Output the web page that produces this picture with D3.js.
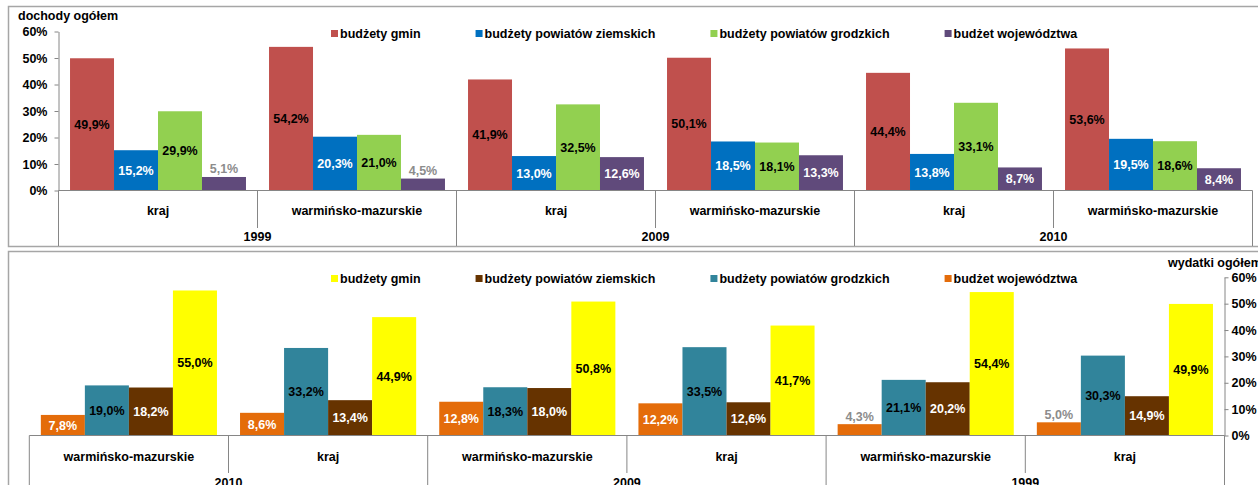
<!DOCTYPE html>
<html lang="pl">
<head>
<meta charset="utf-8">
<script src="https://cdn.jsdelivr.net/npm/d3@7"></script>
<style>
  html, body { margin: 0; padding: 0; background: #fff; }
  svg { display: block; font-family: "Liberation Sans", Arial, sans-serif; font-weight: bold; }
</style>
</head>
<body>
<svg id="chart" width="1258" height="485"></svg>
<script>
// ---- data ----
const seriesNames = ["budżety gmin", "budżety powiatów ziemskich", "budżety powiatów grodzkich", "budżet województwa"];
const yTicks = [0, 10, 20, 30, 40, 50, 60];

// dochody ogółem: groups 1999 kraj, 1999 w-m, 2009 kraj, 2009 w-m, 2010 kraj, 2010 w-m
const incomeYears = ["1999", "2009", "2010"];
const incomeRegions = ["kraj", "warmińsko-mazurskie"];
const incomeGmin = [49.9, 54.2, 41.9, 50.1, 44.4, 53.6];
const incomeZiemskie = [15.2, 20.3, 13.0, 18.5, 13.8, 19.5];
const incomeGrodzkie = [29.9, 21.0, 32.5, 18.1, 33.1, 18.6];
const incomeWojewodztwo = [5.1, 4.5, 12.6, 13.3, 8.7, 8.4];

// wydatki ogółem: groups 2010 w-m, 2010 kraj, 2009 w-m, 2009 kraj, 1999 w-m, 1999 kraj
const expenseYears = ["2010", "2009", "1999"];
const expenseRegions = ["warmińsko-mazurskie", "kraj"];
const expenseGmin = [55.0, 44.9, 50.8, 41.7, 54.4, 49.9];
const expenseZiemskie = [18.2, 13.4, 18.0, 12.6, 20.2, 14.9];
const expenseGrodzkie = [19.0, 33.2, 18.3, 33.5, 21.1, 30.3];
const expenseWojewodztwo = [7.8, 8.6, 12.8, 12.2, 4.3, 5.0];

// ---- styling ----
const FONT = 12.5;
const AXIS = "#868686";
const BORDER = "#a6a6a6";
const fmt = v => v.toFixed(1).replace(".", ",") + "%";

const svg = d3.select("#chart");

function drawPanel(cfg) {
  const g = svg.append("g");

  // panel frame
  g.append("rect")
    .attr("x", 8.5).attr("y", cfg.frameTop + 0.5)
    .attr("width", 1300).attr("height", cfg.frameBottom - cfg.frameTop)
    .attr("fill", "none").attr("stroke", BORDER).attr("stroke-width", 1.5);

  const groups = [];
  cfg.years.forEach(yr => cfg.regions.forEach(rg => groups.push({ year: yr, region: rg })));

  const x0 = d3.scaleBand().domain(d3.range(groups.length)).range(cfg.xRange);
  const x1 = d3.scaleBand().domain(d3.range(cfg.series.length))
    .range([0, x0.bandwidth()]).paddingOuter(0.262);
  const y = d3.scaleLinear().domain([0, 60]).range(cfg.yRange);

  // bars
  cfg.series.forEach((s, si) => {
    const sg = g.append("g");
    sg.selectAll("rect").data(s.values).join("rect")
      .attr("x", (d, i) => x0(i) + x1(si))
      .attr("y", d => y(d))
      .attr("width", x1.bandwidth())
      .attr("height", d => y(0) - y(d))
      .attr("fill", s.color);

    sg.selectAll("text").data(s.values).join("text")
      .attr("x", (d, i) => x0(i) + x1(si) + x1.bandwidth() / 2)
      .attr("y", d => d >= 6 ? (y(d) + y(0)) / 2 : y(d) - 8)
      .attr("dy", "0.35em")
      .attr("text-anchor", "middle")
      .attr("font-size", FONT)
      .attr("fill", d => d >= 6 ? s.labelColor : "#8c8c8c")
      .text(d => fmt(d));
  });

  // value axis
  const axis = (cfg.axisSide === "left" ? d3.axisLeft(y) : d3.axisRight(y))
    .tickValues(yTicks).tickFormat(d => d + "%")
    .tickSize(4).tickSizeOuter(0).tickPadding(cfg.axisSide === "left" ? 7 : 3);
  const ax = g.append("g")
    .attr("transform", `translate(${cfg.axisSide === "left" ? cfg.xRange[0] : cfg.xRange[1]},0)`)
    .call(axis);
  ax.selectAll("path, line").attr("stroke", AXIS);
  ax.selectAll("text").attr("font-size", FONT).attr("fill", "#000");
  ax.attr("font-family", null).attr("font-size", null);

  // category axis: baseline
  const base = y(0);
  g.append("line")
    .attr("x1", cfg.xRange[0]).attr("x2", cfg.xRange[1])
    .attr("y1", base).attr("y2", base)
    .attr("stroke", AXIS);

  // separators between regions within a year
  for (let i = 1; i < groups.length; i += 2) {
    g.append("line")
      .attr("x1", x0(i)).attr("x2", x0(i))
      .attr("y1", base).attr("y2", cfg.regionSepBottom)
      .attr("stroke", AXIS);
  }
  // separators between years, down to the panel's lower edge
  for (let i = 0; i <= groups.length; i += 2) {
    const xx = i < groups.length ? x0(i) : cfg.xRange[1];
    g.append("line")
      .attr("x1", xx).attr("x2", xx)
      .attr("y1", base).attr("y2", cfg.frameBottom)
      .attr("stroke", AXIS);
  }

  // region labels
  g.append("g").selectAll("text").data(groups).join("text")
    .attr("x", (d, i) => x0(i) + x0.bandwidth() / 2)
    .attr("y", cfg.regionLabelY).attr("dy", "0.35em")
    .attr("text-anchor", "middle").attr("font-size", FONT)
    .text(d => d.region);

  // year labels
  g.append("g").selectAll("text").data(cfg.years).join("text")
    .attr("x", (d, i) => x0(2 * i) + x0.bandwidth())
    .attr("y", cfg.yearLabelY).attr("dy", "0.35em")
    .attr("text-anchor", "middle").attr("font-size", FONT)
    .text(d => d);

  // axis title
  g.append("text")
    .attr("x", cfg.titleX).attr("y", cfg.titleY).attr("dy", "0.35em")
    .attr("font-size", FONT)
    .text(cfg.title);

  // legend
  const legend = g.append("g");
  let lx = 331;
  cfg.legend.forEach(s => {
    legend.append("rect")
      .attr("x", lx).attr("y", cfg.legendY - 3.5)
      .attr("width", 7).attr("height", 7)
      .attr("fill", s.color);
    const t = legend.append("text")
      .attr("x", lx + 9).attr("y", cfg.legendY).attr("dy", "0.35em")
      .attr("font-size", FONT)
      .text(s.name);
    lx += 9 + t.node().getComputedTextLength() + 55;
  });
}

// dochody ogółem
const incomeSeries = [
  { name: seriesNames[0], values: incomeGmin, color: "#C0504D", labelColor: "#000" },
  { name: seriesNames[1], values: incomeZiemskie, color: "#0070C0", labelColor: "#fff" },
  { name: seriesNames[2], values: incomeGrodzkie, color: "#92D050", labelColor: "#000" },
  { name: seriesNames[3], values: incomeWojewodztwo, color: "#604A7B", labelColor: "#fff" }
];
drawPanel({
  frameTop: 6, frameBottom: 246,
  years: incomeYears, regions: incomeRegions,
  series: incomeSeries, legend: incomeSeries,
  xRange: [58.5, 1252.5], yRange: [190.5, 31.5],
  axisSide: "left",
  regionSepBottom: 228, regionLabelY: 211, yearLabelY: 237,
  title: "dochody ogółem", titleX: 18, titleY: 16,
  legendY: 33.5
});

// wydatki ogółem
const expenseBy = {
  gmin: { name: seriesNames[0], values: expenseGmin, color: "#FFFF00", labelColor: "#000" },
  ziemskie: { name: seriesNames[1], values: expenseZiemskie, color: "#663300", labelColor: "#fff" },
  grodzkie: { name: seriesNames[2], values: expenseGrodzkie, color: "#31849B", labelColor: "#000" },
  wojewodztwo: { name: seriesNames[3], values: expenseWojewodztwo, color: "#E46C0A", labelColor: "#fff" }
};
drawPanel({
  frameTop: 251, frameBottom: 520,
  years: expenseYears, regions: expenseRegions,
  series: [expenseBy.wojewodztwo, expenseBy.grodzkie, expenseBy.ziemskie, expenseBy.gmin],
  legend: [expenseBy.gmin, expenseBy.ziemskie, expenseBy.grodzkie, expenseBy.wojewodztwo],
  xRange: [29.3, 1224.5], yRange: [435.5, 277.3],
  axisSide: "right",
  regionSepBottom: 473, regionLabelY: 457, yearLabelY: 483,
  title: "wydatki ogółem", titleX: 1168, titleY: 263,
  legendY: 278.5
});
</script>
</body>
</html>
